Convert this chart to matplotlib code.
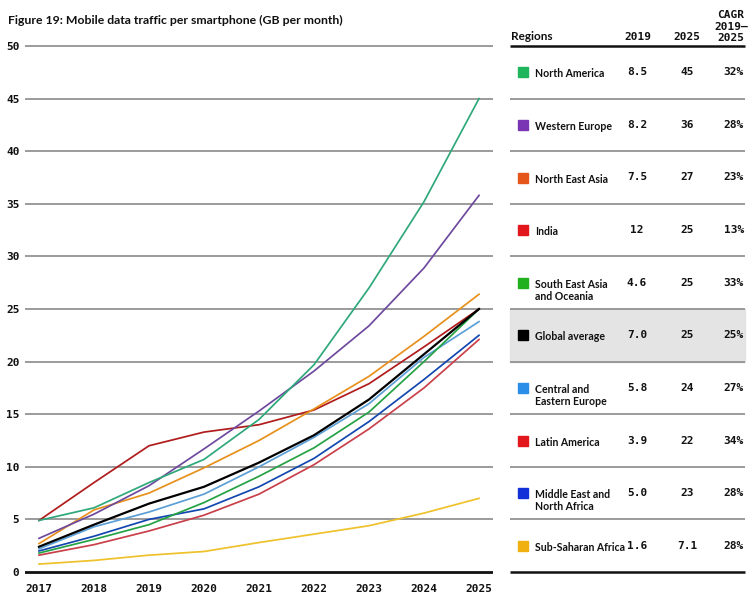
import matplotlib
matplotlib.use("Agg")
import matplotlib.pyplot as plt
from matplotlib.patches import Rectangle

years = [2017, 2018, 2019, 2020, 2021, 2022, 2023, 2024, 2025]

regions = ["North America", "Western Europe", "North East Asia", "India",
           "South East Asia\nand Oceania", "Global average",
           "Central and\nEastern Europe", "Latin America",
           "Middle East and\nNorth Africa", "Sub-Saharan Africa"]

north_america = [4.9, 6.1, 8.5, 10.7, 14.5, 19.7, 27.0, 35.2, 45.0]
western_europe = [3.2, 5.5, 8.2, 11.7, 15.3, 19.1, 23.4, 28.9, 35.8]
north_east_asia = [2.7, 5.9, 7.5, 9.9, 12.5, 15.5, 18.6, 22.4, 26.4]
india = [4.9, 8.5, 12.0, 13.3, 14.0, 15.4, 17.9, 21.4, 25.0]
south_east_asia = [1.8, 3.1, 4.5, 6.6, 9.1, 11.8, 15.2, 20.0, 25.0]
global_average = [2.4, 4.5, 6.5, 8.1, 10.4, 13.0, 16.4, 20.7, 25.0]
central_eastern_europe = [2.2, 4.3, 5.7, 7.4, 10.0, 12.8, 16.0, 20.4, 23.8]
latin_america = [1.6, 2.6, 3.9, 5.4, 7.4, 10.2, 13.6, 17.5, 22.1]
middle_east_africa = [2.0, 3.4, 5.0, 6.0, 8.1, 10.8, 14.3, 18.3, 22.5]
sub_saharan_africa = [0.75, 1.1, 1.6, 1.95, 2.8, 3.6, 4.4, 5.6, 7.0]

series = [north_america, western_europe, north_east_asia, india, south_east_asia,
          global_average, central_eastern_europe, latin_america,
          middle_east_africa, sub_saharan_africa]

table_2019 = ["8.5", "8.2", "7.5", "12", "4.6", "7.0", "5.8", "3.9", "5.0", "1.6"]
table_2025 = ["45", "36", "27", "25", "25", "25", "24", "22", "23", "7.1"]
table_cagr = ["32%", "28%", "23%", "13%", "33%", "25%", "27%", "34%", "28%", "28%"]

y_ticks = [0, 5, 10, 15, 20, 25, 30, 35, 40, 45, 50]

line_colors = ["#2fa87a", "#6e4a9e", "#e8901c", "#b01c1c", "#25a244",
               "#000000", "#5b9fd6", "#c9404a", "#1347b0", "#efc12a"]
swatch_colors = ["#1fb55c", "#7a35b5", "#e5561a", "#e3161b", "#20b020",
                 "#000000", "#2a8ee8", "#e3161b", "#1230d8", "#f0b010"]

W, H = 751, 597
fig = plt.figure(figsize=(W / 100, H / 100), dpi=100)

mono = "DejaVu Sans Mono"
sans = ["Lato", "DejaVu Sans"]

px_per_unit = 10.52
y0_px, y50_px = 572, 46
ymin, ymax = -0.5, 50.5
bot_px = y0_px + 0.5 * px_per_unit
top_px = y50_px - 0.5 * px_per_unit
x_left_px, x_right_px = 25, 493
px_per_year = 55.0
x2017_px = 39

def fy(p):
    return (H - p) / H

ax = fig.add_axes([x_left_px / W, fy(bot_px), (x_right_px - x_left_px) / W,
                   (bot_px - top_px) / H])
ax.set_ylim(ymin, ymax)
ax.set_xlim(2017 - (x2017_px - x_left_px) / px_per_year,
            2017 + (x_right_px - x2017_px) / px_per_year)
for s in ax.spines.values():
    s.set_visible(False)
ax.set_yticks(y_ticks)
ax.set_xticks(years)
ax.set_xticklabels([str(y) for y in years])
ax.tick_params(length=0, labelsize=8)
ax.tick_params(axis="y", pad=4)
ax.tick_params(axis="x", pad=5)
for lbl in ax.get_xticklabels() + ax.get_yticklabels():
    lbl.set_fontfamily(mono)
    lbl.set_fontweight("bold")
    lbl.set_color("#111111")
for t in y_ticks[1:]:
    ax.axhline(t, color="#8a8a8a", lw=1.2, zorder=1)
ax.axhline(0, color="#111111", lw=2.0, zorder=1)

order = [9, 8, 7, 6, 4, 3, 2, 1, 0, 5]
for i in order:
    ax.plot(years, series[i], color=line_colors[i],
            lw=1.6 if i == 5 else 1.25, zorder=3 + (1 if i == 5 else 0),
            solid_joinstyle="round")

fig.text(8 / W, fy(20), "Figure 19: Mobile data traffic per smartphone (GB per month)",
         fontsize=8.8, fontweight="bold", family=sans, va="center", ha="left",
         color="#111111")

tx0, tx1 = 505, 751
tab = fig.add_axes([tx0 / W, fy(bot_px), (tx1 - tx0) / W, (bot_px - top_px) / H])
tab.set_xlim(tx0, tx1)
tab.set_ylim(ymin, ymax)
tab.axis("off")

line_l, line_r = 510, 745
tab.add_patch(Rectangle((line_l, 20), line_r - line_l, 5, color="#e4e4e4", zorder=0))
tab.hlines(50, line_l, line_r, color="#111111", lw=1.8)
tab.hlines(0, line_l, line_r, color="#111111", lw=1.8)
for t in range(5, 50, 5):
    tab.hlines(t, line_l, line_r, color="#8a8a8a", lw=1.2)

hdr_y = (y0_px - 37) / px_per_unit
tab.text(511, hdr_y, "Regions", fontsize=8.5, fontweight="bold", family=sans,
         va="center", ha="left", color="#111111")
tab.text(638, hdr_y, "2019", fontsize=8, fontweight="bold", family=mono,
         va="center", ha="center", color="#111111")
tab.text(687, hdr_y, "2025", fontsize=8, fontweight="bold", family=mono,
         va="center", ha="center", color="#111111")
tab.text(731, hdr_y - 0.55, "CAGR\n2019–\n2025", fontsize=8, fontweight="bold",
         family=mono, va="bottom", ha="center", color="#111111",
         linespacing=1.15)

for k, name in enumerate(regions):
    yc = 47.5 - 5 * k
    sw = 10 / px_per_unit
    tab.add_patch(Rectangle((518, yc - sw / 2), 10, sw, color=swatch_colors[k], zorder=2))
    tab.text(535, yc + 0.38, name, fontsize=7.6, fontweight="bold", family=sans,
             va="top", ha="left", color="#111111", linespacing=1.15)
    tab.text(637, yc, table_2019[k], fontsize=8, fontweight="bold", family=mono,
             va="center", ha="center", color="#111111")
    tab.text(687, yc, table_2025[k], fontsize=8, fontweight="bold", family=mono,
             va="center", ha="center", color="#111111")
    tab.text(744, yc, table_cagr[k], fontsize=8, fontweight="bold", family=mono,
             va="center", ha="right", color="#111111")

fig.savefig("out.png", dpi=100)
